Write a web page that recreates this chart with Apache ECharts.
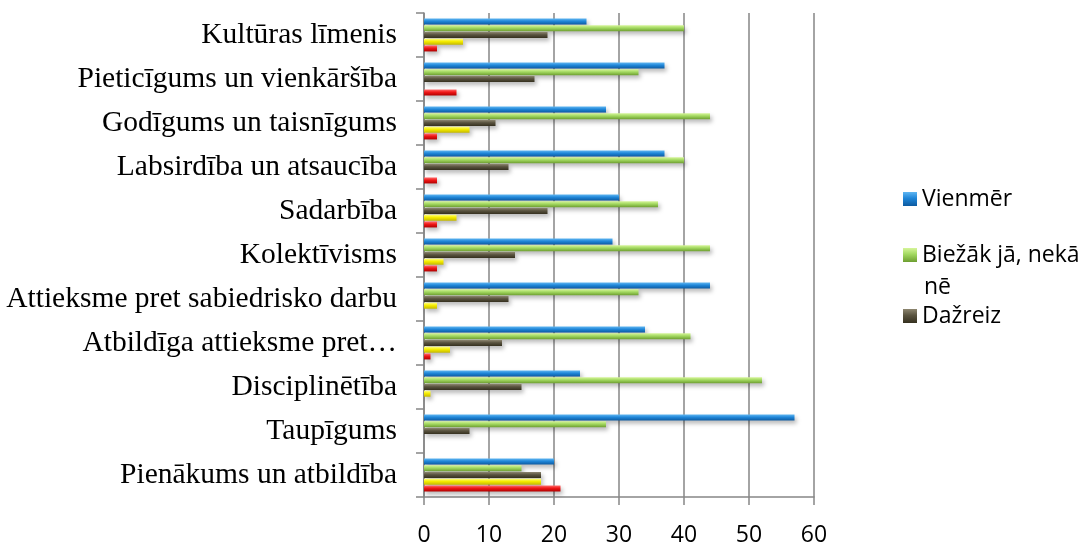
<!DOCTYPE html>
<html>
<head>
<meta charset="utf-8">
<script src="https://cdn.jsdelivr.net/npm/echarts@6/dist/echarts.min.js"></script>
<style>
html,body{margin:0;padding:0;background:#fff;}
#chart{width:1085px;height:542px;}
</style>
</head>
<body>
<div id="chart"></div>
<script>
// Categories listed top to bottom as in the picture
const categories = [
  'Kultūras līmenis',
  'Pieticīgums un vienkāršība',
  'Godīgums un taisnīgums',
  'Labsirdība un atsaucība',
  'Sadarbība',
  'Kolektīvisms',
  'Attieksme pret sabiedrisko darbu',
  'Atbildīga attieksme pret…',
  'Disciplinētība',
  'Taupīgums',
  'Pienākums un atbildība'
];
const vienmer   = [25, 37, 28, 37, 30, 29, 44, 34, 24, 57, 20];
const biezak    = [40, 33, 44, 40, 36, 44, 33, 41, 52, 28, 15];
const dazreiz   = [19, 17, 11, 13, 19, 14, 13, 12, 15, 7, 18];
const reti      = [6, 0, 7, 0, 5, 3, 2, 4, 1, 0, 18];
const nekad     = [2, 5, 2, 2, 2, 2, 0, 1, 0, 0, 21];
const xTicks    = [0, 10, 20, 30, 40, 50, 60];

function grad(top, mid, bottom) {
  return new echarts.graphic.LinearGradient(0, 0, 0, 1, [
    {offset: 0, color: top},
    {offset: 0.45, color: mid},
    {offset: 1, color: bottom}
  ]);
}
function mkSeries(name, data, c) {
  return {
    name: name,
    type: 'bar',
    data: data.map(v => v === 0 ? null : v),
    barWidth: 6,
    barGap: '12%',
    itemStyle: {
      color: grad(c[0], c[1], c[2]),
      shadowColor: 'rgba(0,0,0,0.28)',
      shadowBlur: 4,
      shadowOffsetX: 2,
      shadowOffsetY: 3
    }
  };
}

const chart = echarts.init(document.getElementById('chart'));
const legendText = {fontFamily: 'Open Sans', fontSize: 23, color: '#000', lineHeight: 26};
chart.setOption({
  animation: false,
  backgroundColor: '#fff',
  grid: {left: 424, top: 13, right: 271, bottom: 45, containLabel: false, outerBoundsMode: 'none'},
  legend: [
    {data: ['Vienmēr'], orient: 'vertical', left: 903, top: 186, padding: 0,
     itemWidth: 14, itemHeight: 14, itemGap: 6, icon: 'rect', textStyle: legendText},
    {data: ['Biežāk jā, nekā nē'], orient: 'vertical', left: 903, top: 242, padding: 0,
     itemWidth: 14, itemHeight: 14, icon: 'rect', textStyle: legendText,
     formatter: () => 'Biežāk jā, nekā'},
    {data: ['Dažreiz'], orient: 'vertical', left: 903, top: 303, padding: 0,
     itemWidth: 14, itemHeight: 14, icon: 'rect', textStyle: legendText}
  ],
  graphic: [
    {type: 'text', left: 924, top: 276,
     style: {text: 'nē', fontFamily: 'Open Sans', fontSize: 23, fill: '#000'}}
  ],
  xAxis: {
    type: 'value',
    min: 0, max: 60, interval: 10,
    axisLine: {show: true, lineStyle: {color: '#868686', width: 1.5}},
    axisTick: {show: true, length: 8, lineStyle: {color: '#868686', width: 1.5}},
    splitLine: {show: true, lineStyle: {color: '#868686', width: 1.5}},
    axisLabel: {fontFamily: 'Open Sans', fontSize: 23, color: '#000', margin: 27,
      formatter: v => xTicks.includes(v) ? String(v) : ''}
  },
  yAxis: {
    type: 'category',
    data: categories,
    inverse: true,
    axisLine: {show: true, lineStyle: {color: '#868686', width: 1.5}},
    axisTick: {show: true, length: 8, lineStyle: {color: '#868686', width: 1.5}},
    axisLabel: {fontFamily: 'Liberation Serif', fontSize: 29.5, color: '#000', margin: 27}
  },
  series: [
    mkSeries('Vienmēr', vienmer, ['#5fb6f2', '#1f86d8', '#0d5aa0']),
    mkSeries('Biežāk jā, nekā nē', biezak, ['#d6f59a', '#a2d860', '#6d9e30']),
    mkSeries('Dažreiz', dazreiz, ['#8d8670', '#5a5440', '#35301f']),
    mkSeries('Reti', reti, ['#ffff80', '#f5ec00', '#c4b800']),
    mkSeries('Nekad', nekad, ['#ff7070', '#f01818', '#b00000'])
  ]
});
</script>
</body>
</html>
